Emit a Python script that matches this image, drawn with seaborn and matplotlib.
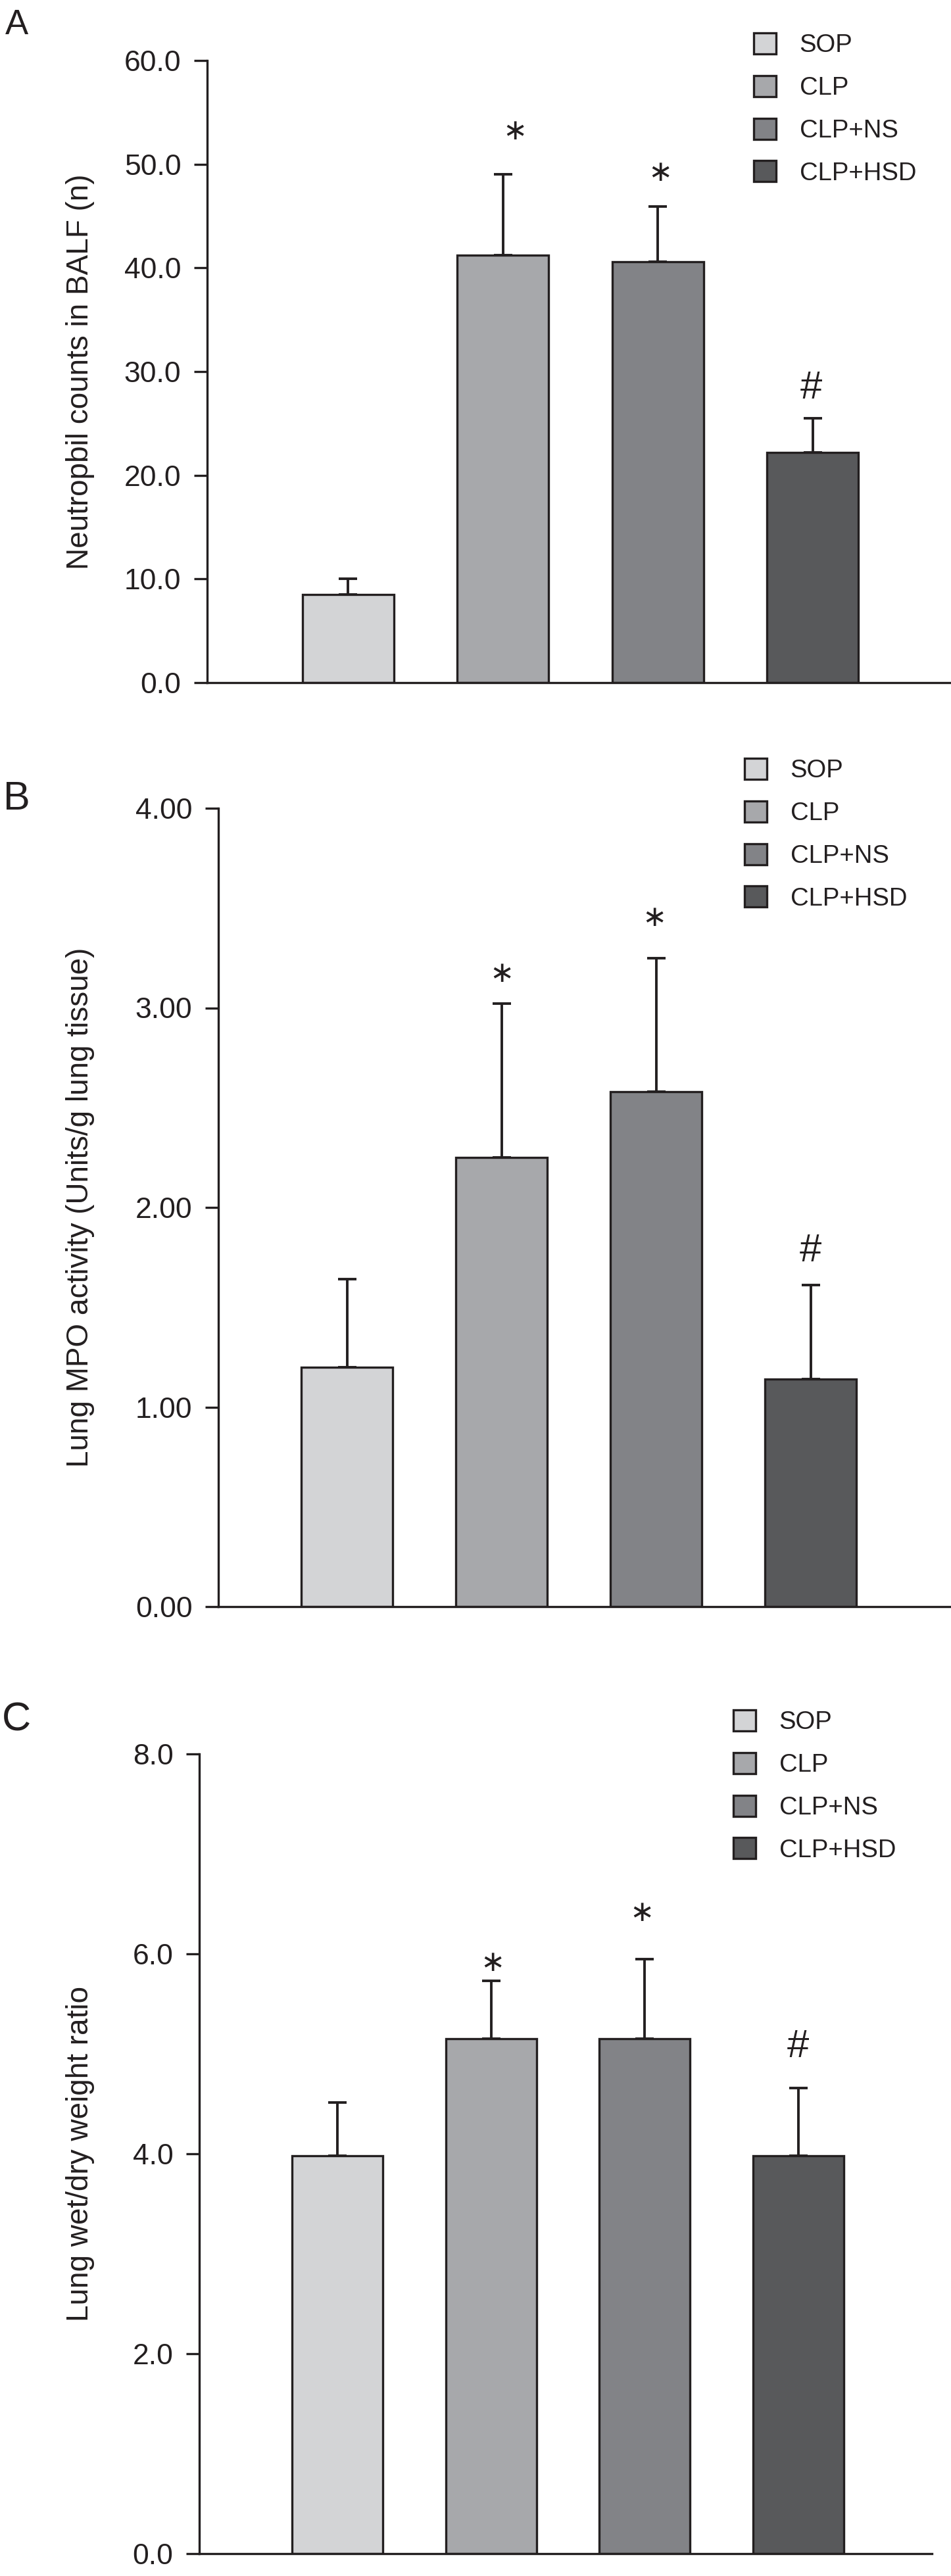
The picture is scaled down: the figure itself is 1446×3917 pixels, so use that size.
import numpy as np
import pandas as pd
import matplotlib
matplotlib.use("Agg")
import matplotlib.pyplot as plt
from matplotlib.ticker import FormatStrFormatter
import seaborn as sns

# ---------------- data ----------------
groups = ["SOP", "CLP", "CLP+NS", "CLP+HSD"]
bar_colors = ["#d3d4d6", "#a7a8ab", "#828387", "#58595b"]

neut_mean = [8.5, 41.2, 40.6, 22.2]
neut_sd = [1.5, 7.8, 5.3, 3.3]
neut_marks = ["", "\u2217", "\u2217", "#"]
neut_mark_y = [0.0, 53.2, 49.2, 28.4]
neut_mark_dx = [0.0, 0.08, 0.015, -0.01]
neut_ticks = [0, 10, 20, 30, 40, 50, 60]

mpo_mean = [1.20, 2.25, 2.58, 1.14]
mpo_sd = [0.44, 0.77, 0.67, 0.47]
mpo_marks = ["", "\u2217", "\u2217", "#"]
mpo_mark_y = [0.0, 3.17, 3.45, 1.78]
mpo_mark_dx = [0.0, 0.0, -0.01, 0.0]
mpo_ticks = [0, 1, 2, 3, 4]

wd_mean = [3.98, 5.15, 5.15, 3.98]
wd_sd = [0.53, 0.58, 0.80, 0.68]
wd_marks = ["", "\u2217", "\u2217", "#"]
wd_mark_y = [0.0, 5.91, 6.41, 5.07]
wd_mark_dx = [0.0, 0.01, -0.02, 0.0]
wd_ticks = [0, 2, 4, 6, 8]

panel_letters = ["A", "B", "C"]
ylabels = ["Neutropbil counts in BALF (n)",
           "Lung MPO activity (Units/g lung tissue)",
           "Lung wet/dry weight ratio"]
tick_formats = ["%.1f", "%.2f", "%.1f"]

# ---------------- style ----------------
sns.set_style("ticks")
plt.rcParams["font.family"] = ["Liberation Sans", "DejaVu Sans"]
INK = "#231f20"

W, H = 1446, 3917
fig = plt.figure(figsize=(W / 100, H / 100), dpi=100)
fig.patch.set_facecolor("white")

layouts = [
    dict(l=315, r=1446, t=92, b=1038, x0=-0.909, xsp=235.5, leg=(1146, 50), let=(25, 38), letsize=38),
    dict(l=332, r=1446, t=1229, b=2443, x0=-0.832, xsp=235.0, leg=(1132, 1153), let=(25, 1216), letsize=44),
    dict(l=303, r=1417, t=2667, b=3883, x0=-0.900, xsp=233.5, leg=(1115, 2600), let=(25, 2616), letsize=44),
]

datasets = [
    (neut_mean, neut_sd, neut_marks, neut_mark_y, neut_mark_dx, neut_ticks),
    (mpo_mean, mpo_sd, mpo_marks, mpo_mark_y, mpo_mark_dx, mpo_ticks),
    (wd_mean, wd_sd, wd_marks, wd_mark_y, wd_mark_dx, wd_ticks),
]

LW = 2.4

for k, (lay, (mean, sd, marks, mark_y, mark_dx, ticks)) in enumerate(zip(layouts, datasets)):
    ax = fig.add_axes([lay["l"] / W, 1 - lay["b"] / H,
                       (lay["r"] - lay["l"]) / W, (lay["b"] - lay["t"]) / H])
    df = pd.DataFrame({"group": groups, "value": mean, "sd": sd})
    sns.barplot(data=df, x="group", y="value", hue="group", order=groups,
                hue_order=groups, palette=bar_colors, dodge=False, width=0.59,
                edgecolor=INK, linewidth=LW, errorbar=None, legend=True,
                saturation=1, ax=ax)
    xs = np.arange(len(groups))
    ax.errorbar(xs, df["value"], yerr=[np.zeros(len(groups)), df["sd"]],
                fmt="none", ecolor=INK, elinewidth=2.8, capsize=10,
                capthick=2.8, zorder=5)
    for xi, m, my, dx in zip(xs, marks, mark_y, mark_dx):
        if m:
            if m == "#":
                ax.text(xi + dx, my, m, ha="center", va="center", fontsize=43,
                        color=INK, family=["Liberation Sans", "DejaVu Sans"])
            else:
                ax.text(xi + dx, my, m, ha="center", va="center", fontsize=32,
                        color=INK, family=["DejaVu Sans"])

    width_units = (lay["r"] - lay["l"]) / lay["xsp"]
    ax.set_xlim(lay["x0"], lay["x0"] + width_units)
    ax.set_ylim(ticks[0], ticks[-1])
    ax.set_yticks(ticks)
    ax.yaxis.set_major_formatter(FormatStrFormatter(tick_formats[k]))
    ax.set_xticks([])
    ax.set_xlabel("")
    for s in ["top", "right"]:
        ax.spines[s].set_visible(False)
    for s in ["left", "bottom"]:
        ax.spines[s].set_color(INK)
        ax.spines[s].set_linewidth(LW)
    ax.tick_params(axis="y", direction="out", length=14.5, width=LW,
                   color=INK, labelsize=32, labelcolor=INK, pad=14)
    ax.set_facecolor("white")

    ax.set_ylabel(ylabels[k], fontsize=33, color=INK)
    ax.yaxis.set_label_coords((144 - lay["l"]) / (lay["r"] - lay["l"]), 0.5)

    old = ax.get_legend()
    handles = list(old.legend_handles)
    labels = [t.get_text() for t in old.texts]
    old.remove()
    for h, c in zip(handles, bar_colors):
        h.set_facecolor(c)
        h.set_edgecolor(INK)
        h.set_linewidth(2.4)
    lx, ly = lay["leg"]
    ax.legend(handles, labels, loc="upper left",
              bbox_to_anchor=(lx / W, 1 - ly / H),
              bbox_transform=fig.transFigure, frameon=False,
              fontsize=27.5, handlelength=0.9, handleheight=0.92,
              handletextpad=0.92, labelspacing=0.72, borderpad=0,
              borderaxespad=0, labelcolor=INK)

    lx, ly = lay["let"]
    fig.text(lx / W, 1 - ly / H, panel_letters[k], ha="center", va="center",
             fontsize=lay["letsize"], color=INK)

fig.savefig("out.png", dpi=100, facecolor="white")
